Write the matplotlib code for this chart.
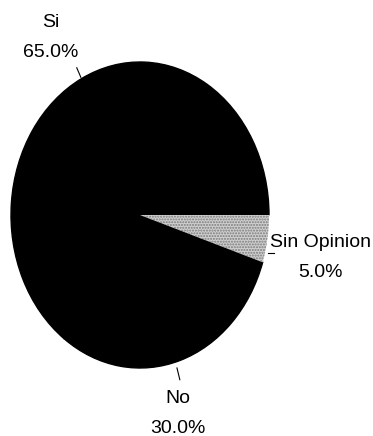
import numpy as np
import matplotlib
matplotlib.use("Agg")
import matplotlib.pyplot as plt

categories = ["Sin Opinion", "No", "Si"]
values = [5.0, 30.0, 65.0]
pct_labels = ["5.0%", "30.0%", "65.0%"]

plt.rcParams['font.family'] = ['Liberation Sans Narrow', 'Liberation Sans', 'DejaVu Sans']

W, H = 373, 436
fig = plt.figure(figsize=(W / 100, H / 100), dpi=100)
cx, cy, rx, ry = 140, 215, 129, 153
ax = fig.add_axes([(cx - rx) / W, 1 - (cy + ry) / H, 2 * rx / W, 2 * ry / H])

colors = ["#d0d0d0", "black", "black"]
wedges, _ = ax.pie(values, colors=colors, startangle=0, counterclock=False,
                   wedgeprops=dict(linewidth=1, edgecolor="black"))
wedges[0].set_edgecolor("#7a7a7a")
wedges[0].set_hatch("......")
wedges[0].set_linewidth(0)
wedges[0].set_zorder(5)
ax.set_aspect('auto')
ax.set_xlim(-1, 1)
ax.set_ylim(-1, 1)
ax.axis('off')

# label placement (text offsets in data coords of the elliptical axes)
text_pos = {"Si": (-0.69, 1.16), "No": (0.295, -1.30), "Sin Opinion": (1.40, -0.275)}
tick_ang_adj = {"Si": 0, "No": -2, "Sin Opinion": -5}
tick_r = {"Si": (1.01, 1.08), "No": (1.04, 1.12), "Sin Opinion": (1.02, 1.07)}

for w, cat, pl in zip(wedges, categories, pct_labels):
    ang = np.deg2rad((w.theta1 + w.theta2) / 2 + tick_ang_adj[cat])
    r0, r1 = tick_r[cat]
    if cat == "Sin Opinion":
        ax.plot([r0 * np.cos(ang), r1 * np.cos(ang)], [r0 * np.sin(ang)] * 2,
                color="black", lw=0.8, clip_on=False)
    else:
        ax.plot([r0 * np.cos(ang), r1 * np.cos(ang)], [r0 * np.sin(ang), r1 * np.sin(ang)],
                color="black", lw=0.8, clip_on=False)
    tx, ty = text_pos[cat]
    ax.text(tx, ty, f"{cat}\n{pl}", ha="center", va="center", fontsize=14,
            linespacing=2.0, clip_on=False)

fig.savefig("out.png", dpi=100)
